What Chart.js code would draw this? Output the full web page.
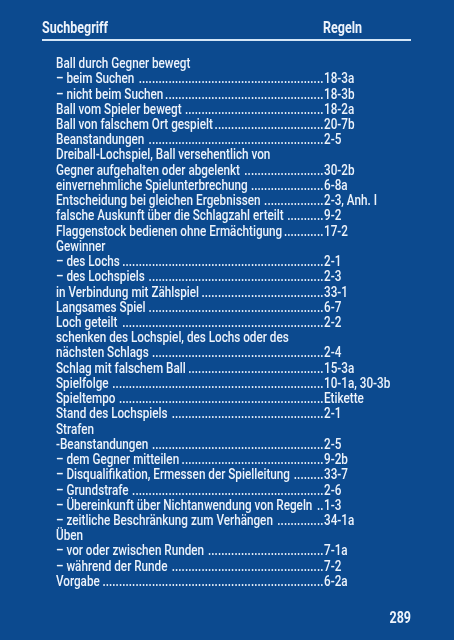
<!DOCTYPE html>
<html>
<head>
<meta charset="utf-8">
<script src="https://cdn.jsdelivr.net/npm/chart.js@4"></script>
<style>
  html, body { margin: 0; padding: 0; background: #0c4a8f; }
  #wrap { width: 454px; height: 640px; position: relative; }
</style>
</head>
<body>
<div id="wrap"><canvas id="index"></canvas></div>
<script>
// index entries (left column) and rule references (right column)
var entries = [
    "Ball durch Gegner bewegt",
    "– beim Suchen",
    "– nicht beim Suchen",
    "Ball vom Spieler bewegt",
    "Ball von falschem Ort gespielt",
    "Beanstandungen",
    "Dreiball-Lochspiel, Ball versehentlich von",
    "Gegner aufgehalten oder abgelenkt",
    "einvernehmliche Spielunterbrechung",
    "Entscheidung bei gleichen Ergebnissen",
    "falsche Auskunft über die Schlagzahl erteilt",
    "Flaggenstock bedienen ohne Ermächtigung",
    "Gewinner",
    "– des Lochs",
    "– des Lochspiels",
    "in Verbindung mit Zählspiel",
    "Langsames Spiel",
    "Loch geteilt",
    "schenken des Lochspiel, des Lochs oder des",
    "nächsten Schlags",
    "Schlag mit falschem Ball",
    "Spielfolge",
    "Spieltempo",
    "Stand des Lochspiels",
    "Strafen",
    "-Beanstandungen",
    "– dem Gegner mitteilen",
    "– Disqualifikation, Ermessen der Spielleitung",
    "– Grundstrafe",
    "– Übereinkunft über Nichtanwendung von Regeln",
    "– zeitliche Beschränkung zum Verhängen",
    "Üben",
    "– vor oder zwischen Runden",
    "– während der Runde",
    "Vorgabe"
];
var rules = [
    "", "18-3a", "18-3b", "18-2a", "20-7b", "2-5", "", "30-2b", "6-8a", "2-3, Anh. I",
    "9-2", "17-2", "", "2-1", "2-3", "33-1", "6-7", "2-2", "", "2-4",
    "15-3a", "10-1a, 30-3b", "Etikette", "2-1", "", "2-5", "9-2b", "33-7", "2-6", "1-3",
    "34-1a", "", "7-1a", "7-2", "6-2a"
];
var headLeft = "Suchbegriff";
var headRight = "Regeln";
var pageNo = "289";

var fontFam = 'Roboto, "Liberation Sans", sans-serif';
var textCol = "#edf3fb";

// draw text squeezed horizontally to imitate the condensed face
function squeezed(ctx, txt, x, y, sx) {
    ctx.save();
    ctx.translate(x, y);
    ctx.scale(sx, 1);
    ctx.fillText(txt, 0, 0);
    ctx.restore();
    return ctx.measureText(txt).width * sx;
}

var indexText = {
    id: 'indexText',
    afterDraw: function (chart) {
        var ctx = chart.ctx;
        var y = chart.scales.y;
        ctx.save();
        ctx.fillStyle = textCol;
        ctx.textBaseline = 'alphabetic';
        ctx.textAlign = 'left';

        // header
        ctx.font = 'bold 16px ' + fontFam;
        var hsx = 66 / ctx.measureText(headLeft).width;
        squeezed(ctx, headLeft, 42, 33, hsx);
        squeezed(ctx, headRight, 323, 33, hsx);
        ctx.strokeStyle = "#d4e6f7";
        ctx.lineWidth = 2;
        ctx.beginPath();
        ctx.moveTo(42, 40);
        ctx.lineTo(411, 40);
        ctx.stroke();

        // rows
        ctx.font = '500 15.5px ' + fontFam;
        var sx = 184 / ctx.measureText(entries[7]).width;
        var refX = 324;
        entries.forEach(function (label, i) {
            var base = y.getPixelForValue(i) + 5.5;
            var w = squeezed(ctx, label, 56, base, sx);
            if (rules[i]) {
                var x = refX - 3.8;
                while (x > 56 + w + 1.5) {
                    squeezed(ctx, '.', x, base, sx);
                    x -= 3.3;
                }
                squeezed(ctx, rules[i], refX, base, sx);
            }
        });

        // page number
        ctx.font = 'bold 16px ' + fontFam;
        var pw = ctx.measureText(pageNo).width * hsx;
        squeezed(ctx, pageNo, 411 - pw, 623, hsx);
        ctx.restore();
    }
};

var ctx = document.getElementById('index').getContext('2d');
var indexChart = new Chart(ctx, {
    type: 'bar',
    data: {
        labels: entries,
        datasets: [{ data: entries.map(function () { return null; }) }]
    },
    options: {
        indexAxis: 'y',
        responsive: true,
        maintainAspectRatio: false,
        animation: false,
        layout: { padding: { top: 55, bottom: 52, left: 0, right: 0 } },
        plugins: { legend: { display: false }, tooltip: { enabled: false }, title: { display: false } },
        scales: {
            x: { display: false, min: 0, max: 1 },
            y: { display: false }
        }
    },
    plugins: [indexText]
});
</script>
</body>
</html>
